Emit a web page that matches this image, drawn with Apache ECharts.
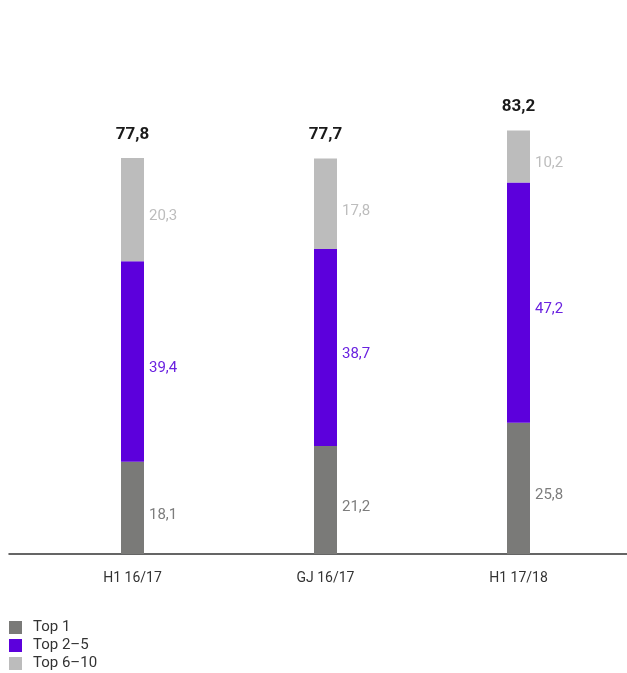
<!DOCTYPE html>
<html>
<head>
<meta charset="utf-8">
<script src="https://cdn.jsdelivr.net/npm/echarts@6/dist/echarts.min.js"></script>
<style>html,body{margin:0;padding:0;background:#fff;}#c{width:627px;height:673px;}</style>
</head>
<body>
<div id="c"></div>
<script>
var categories = ['H1 16/17', 'GJ 16/17', 'H1 17/18'];
var top1 = [18.1, 21.2, 25.8];
var top2to5 = [39.4, 38.7, 47.2];
var top6to10 = [20.3, 17.8, 10.2];
var totals = [77.8, 77.7, 83.2];
var seriesNames = ['Top 1', 'Top 2\u20135', 'Top 6\u201310'];

function fmt(v) { return String(v.toFixed(1)).replace('.', ','); }

var chart = echarts.init(document.getElementById('c'));
var font = 'Roboto, "Noto Sans", sans-serif';
function seg(name, data, color, labelColor) {
  return {
    name: name, type: 'bar', stack: 's', data: data, barWidth: 23,
    xAxisIndex: 0, yAxisIndex: 0,
    itemStyle: { color: color },
    label: {
      show: true, position: 'right', distance: 5, offset: [0, 7],
      color: labelColor, fontSize: 15, fontFamily: font,
      formatter: function (p) { return fmt(p.value); }
    }
  };
}
chart.setOption({
  animation: false,
  textStyle: { fontFamily: font },
  grid: [
    { left: 36, right: 12, top: 45, bottom: 119, containLabel: false },
    { left: 9, right: 0, top: 45, bottom: 119, containLabel: false }
  ],
  xAxis: [
    { type: 'category', gridIndex: 0, data: categories,
      axisLine: { show: false }, axisTick: { show: false },
      axisLabel: { color: '#333', fontSize: 14, margin: 17, fontFamily: font } },
    { type: 'value', gridIndex: 1, min: 0, max: 1,
      axisLine: { show: true, onZero: false, lineStyle: { color: '#333', width: 1.5 } },
      axisTick: { show: false }, axisLabel: { show: false }, splitLine: { show: false } }
  ],
  yAxis: [
    { type: 'value', gridIndex: 0, min: 0, max: 100, show: false, splitLine: { show: false } },
    { type: 'value', gridIndex: 1, min: 0, max: 100, show: false, splitLine: { show: false } }
  ],
  legend: {
    orient: 'vertical', left: 9, top: 620, height: 60, padding: 0,
    itemWidth: 13, itemHeight: 13, itemGap: 3,
    icon: 'rect', data: seriesNames,
    textStyle: { color: '#333', fontSize: 15, lineHeight: 15, fontFamily: font, padding: [0, 0, 0, 6] }
  },
  series: [
    seg(seriesNames[0], top1, '#7a7a78', '#7d7d7d'),
    seg(seriesNames[1], top2to5, '#5c00dc', '#6a22e0'),
    seg(seriesNames[2], top6to10, '#bcbcbc', '#bdbdbd'),
    {
      name: 'total', type: 'bar', stack: 's', barWidth: 23,
      data: totals.map(function () { return 0; }),
      itemStyle: { color: 'transparent' },
      label: {
        show: true, position: 'top', distance: 15,
        color: '#1a1a1a', fontSize: 17, fontWeight: 'bold', fontFamily: font,
        formatter: function (p) { return fmt(totals[p.dataIndex]); }
      }
    }
  ]
});
</script>
</body>
</html>
